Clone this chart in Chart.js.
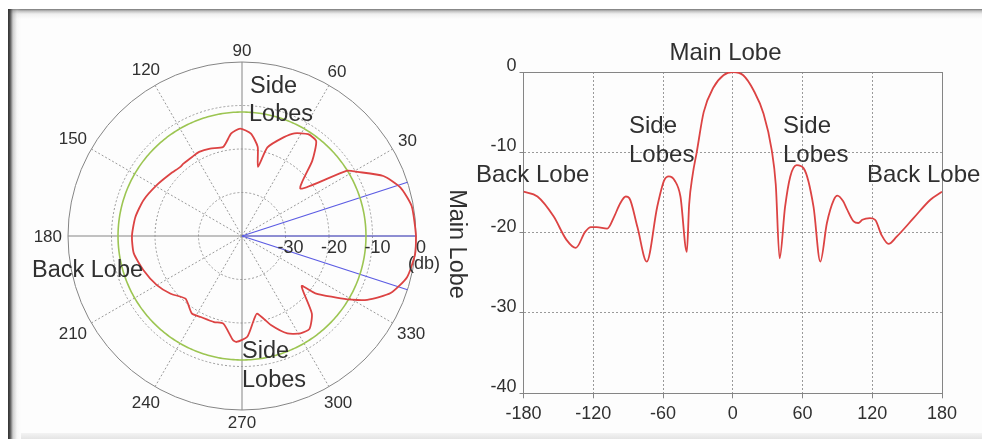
<!DOCTYPE html>
<html>
<head>
<meta charset="utf-8">
<script src="https://cdn.jsdelivr.net/npm/chart.js@4.4.1/dist/chart.umd.min.js"></script>
<style>
  html, body { margin: 0; padding: 0; background: #ffffff; overflow: hidden; }
  #stage { position: relative; width: 982px; height: 439px; overflow: hidden; background: #ffffff; }
  #panel { position: absolute; left: 8px; top: 9px; width: 974px; height: 430px; background: #fdfdfd; }
  #edgeTop {
    position: absolute; left: 8px; top: 9px; width: 974px; height: 10px;
    background: linear-gradient(rgba(110,110,110,0.95) 0, rgba(140,140,140,0.55) 2px, rgba(200,200,200,0.25) 5px, rgba(255,255,255,0) 10px);
  }
  #edgeLeft {
    position: absolute; left: 8px; top: 9px; width: 13px; height: 430px;
    background: linear-gradient(to right, rgba(50,50,50,1) 0, rgba(60,60,60,0.9) 2px, rgba(150,150,150,0.45) 5px, rgba(220,220,220,0.2) 9px, rgba(255,255,255,0) 13px);
  }
  #floor {
    position: absolute; left: 21px; top: 433px; width: 961px; height: 6px;
    background: linear-gradient(#f3f3f3, #e4e4e4);
  }
  #polar { position: absolute; left: 0; top: 0; width: 490px; height: 439px; }
  #cut { position: absolute; left: 470px; top: 0; width: 512px; height: 439px; }
</style>
</head>
<body>
<div id="stage">
  <div id="panel"></div>
  <div id="edgeTop"></div>
  <div id="edgeLeft"></div>
  <div id="floor"></div>
  <canvas id="polar" width="490" height="439"></canvas>
  <canvas id="cut" width="512" height="439"></canvas>
</div>
<script>
// Radiation pattern in polar form: direction (deg, counter-clockwise from boresight) and gain (dB)
const polarAngles = [0, 10, 17, 23, 29, 32, 39, 47, 52, 57, 63, 67, 74, 77, 80, 85, 91, 96, 102, 110,
  117, 122, 129, 132, 139, 149, 160, 170, 180, 189, 199, 210, 219, 228, 237, 243, 252, 258, 265, 267,
  273, 278, 281, 288, 295, 301, 306, 312, 320, 322, 329, 333, 339, 346, 354];
const polarDb = [0, -0.4, -1.9, -4.7, -9.6, -11.7, -22.7, -16.3, -12.3, -12.1, -13.5, -15.3, -18.8, -23.7, -19.2, -16.4, -15.3, -16.3, -19.1, -18.6,
  -18.3, -18.5, -18.6, -18.7, -18.2, -17.2, -15.9, -15.1, -14.7, -14.8, -16.0, -17.4, -18.9, -20.6, -18.8, -19.1, -19.2, -19.4, -16.0, -15.6,
  -16.8, -20.5, -21.8, -18.5, -15.3, -13.9, -13.6, -16.0, -22.1, -18.6, -11.7, -7.7, -3.4, -0.9, 0];

// Same pattern unrolled over -180..180 deg
const cutAngles = [-180, -168, -154, -143, -135, -127, -122, -117, -108, -102, -97, -92, -89, -82, -74, -65, -59, -55, -50, -45,
  -39.5, -37.5, -34.5, -31, -25, -16.5, -8, 0, 9, 18, 26.5, 33.5, 37, 40.3, 45, 49.5, 55, 61, 69.5, 75.3,
  81, 87, 90, 95, 98, 104, 108, 111.5, 118, 122.5, 128, 134, 141, 155.5, 170, 180];
const cutDb = [-14.9, -15.5, -18.0, -20.9, -21.9, -19.9, -19.3, -19.3, -19.5, -18.0, -16.4, -15.5, -15.7, -19.3, -23.6, -16.8, -13.5, -13.0, -13.5, -15.5,
  -22.4, -16.5, -12.8, -10.0, -5.0, -1.9, -0.4, 0, -0.4, -2.3, -5.2, -9.7, -14.0, -23.2, -16.8, -13.0, -11.6, -12.0, -16.8, -23.6,
  -18.8, -15.9, -15.4, -16.1, -17.0, -18.6, -18.8, -18.4, -18.2, -18.4, -20.3, -21.4, -20.5, -18.2, -15.9, -14.9];

// Reference ring and beam edges
const ringDb = -11.5;
const beamAngles = [18, 0, -18];

// Axis tick labels
const angleTickLabels = [30, 60, 90, 120, 150, 180, 210, 240, 270, 300, 330];
const radialTickLabels = [-30, -20, -10, 0];
const cutXTicks = [-180, -120, -60, 0, 60, 120, 180];
const cutYTicks = [0, -10, -20, -30, -40];

const RED = '#dc4343';
const GREEN = '#9cc552';
const BLUE = '#5b5be3';
const GRID = '#9a9a9a';
const AXIS = '#858585';
const TEXT = '#303030';
const FONT = '"Liberation Sans", Arial, sans-serif';

// ---------- polar chart ----------
// 1-degree direction categories, walked clockwise so that angles grow counter-clockwise
const N = 360;
const idxOf = a => ((N - Math.round(a)) % N + N) % N;
const directionLabels = Array.from({ length: N }, (_, i) => String((N - i) % N));
const patternSeries = new Array(N).fill(null);
polarAngles.forEach((a, k) => { patternSeries[idxOf(a)] = polarDb[k]; });
const ringSeries = new Array(N).fill(ringDb);

const polarDecor = {
  id: 'polarDecor',
  beforeDatasetsDraw(chart) {
    const s = chart.scales.r, ctx = chart.ctx;
    ctx.save();
    ctx.strokeStyle = BLUE; ctx.lineWidth = 1.2;
    beamAngles.forEach(a => {
      const p = s.getPointPositionForValue(idxOf(a), s.max);
      ctx.beginPath(); ctx.moveTo(s.xCenter, s.yCenter); ctx.lineTo(p.x, p.y); ctx.stroke();
    });
    ctx.restore();
  },
  afterDraw(chart) {
    const s = chart.scales.r, ctx = chart.ctx;
    ctx.save();
    ctx.fillStyle = TEXT;
    // direction labels around the rim
    ctx.font = '17px ' + FONT;
    ctx.textAlign = 'center'; ctx.textBaseline = 'middle';
    angleTickLabels.forEach(a => {
      const t = String(a);
      const w = ctx.measureText(t).width, h = 12;
      const rad = a * Math.PI / 180;
      const ext = Math.abs(Math.cos(rad)) * w / 2 + Math.abs(Math.sin(rad)) * h / 2;
      const p = s.getPointPosition(idxOf(a), s.drawingArea + 6 + ext);
      ctx.fillText(t, p.x, p.y + 1);
    });
    // gain labels along boresight
    ctx.font = '18px ' + FONT;
    ctx.textBaseline = 'alphabetic';
    radialTickLabels.forEach(v => {
      const p = s.getPointPositionForValue(0, v);
      ctx.fillText(String(v), p.x + 5, s.yCenter + 17);
    });
    const p0 = s.getPointPositionForValue(0, 0);
    ctx.fillText('(db)', p0.x + 8, s.yCenter + 33);
    // lobe captions
    ctx.font = '23.5px ' + FONT;
    ctx.textAlign = 'left';
    ctx.fillText('Side', 250, 93);
    ctx.fillText('Lobes', 249, 121);
    ctx.fillText('Side', 242, 358);
    ctx.fillText('Lobes', 242, 387);
    ctx.fillText('Back Lobe', 32, 277);
    ctx.translate(456, 244);
    ctx.rotate(Math.PI / 2);
    ctx.textAlign = 'center'; ctx.textBaseline = 'middle';
    ctx.fillText('Main Lobe', 0, 0);
    ctx.restore();
  }
};

new Chart(document.getElementById('polar'), {
  type: 'radar',
  data: {
    labels: directionLabels,
    datasets: [
      { data: patternSeries, borderColor: RED, borderWidth: 1.8, pointRadius: 0, spanGaps: true, tension: 0.2, fill: false },
      { data: ringSeries, borderColor: GREEN, borderWidth: 1.6, pointRadius: 0, tension: 0, fill: false }
    ]
  },
  options: {
    responsive: false,
    animation: false,
    layout: { padding: { left: 68, top: 62, right: 74, bottom: 29 } },
    plugins: { legend: { display: false }, tooltip: { enabled: false } },
    scales: {
      r: {
        min: -40, max: 0,
        startAngle: 90,
        ticks: { display: false, stepSize: 10 },
        pointLabels: { display: false },
        grid: {
          circular: true,
          color: c => (c.tick && c.tick.value === 0) ? AXIS : GRID,
          lineWidth: 1
        },
        border: { dash: c => (c.tick && c.tick.value === 0) ? [] : [2, 2] },
        angleLines: {
          display: true,
          color: c => (c.index % 90 === 0) ? AXIS : GRID,
          lineWidth: c => (c.index % 30 === 0) ? 1 : 0,
          borderDash: c => (c.index % 90 === 0) ? [] : [2, 2]
        }
      }
    }
  },
  plugins: [polarDecor]
});

// ---------- rectangular cut ----------
const cutCaptions = {
  id: 'cutCaptions',
  afterDraw(chart) {
    const ctx = chart.ctx;
    ctx.save();
    ctx.fillStyle = TEXT;
    ctx.font = '24px ' + FONT;
    ctx.textBaseline = 'alphabetic';
    ctx.textAlign = 'center';
    ctx.fillText('Main Lobe', 255.5, 60);
    ctx.textAlign = 'left';
    ctx.fillText('Side', 159, 133);
    ctx.fillText('Lobes', 159, 162);
    ctx.fillText('Side', 313, 133);
    ctx.fillText('Lobes', 313, 162);
    ctx.fillText('Back Lobe', 6, 182);
    ctx.fillText('Back Lobe', 397, 182);
    ctx.restore();
  }
};

const isEdgeX = v => v === cutXTicks[0] || v === cutXTicks[cutXTicks.length - 1];
const isEdgeY = v => v === cutYTicks[0] || v === cutYTicks[cutYTicks.length - 1];

new Chart(document.getElementById('cut'), {
  type: 'line',
  data: {
    datasets: [{
      data: cutAngles.map((x, i) => ({ x, y: cutDb[i] })),
      borderColor: RED, borderWidth: 1.8, pointRadius: 0,
      cubicInterpolationMode: 'monotone', fill: false
    }]
  },
  options: {
    responsive: false,
    animation: false,
    layout: { padding: { left: 0, top: 72, right: 40, bottom: 0 } },
    plugins: { legend: { display: false }, tooltip: { enabled: false } },
    scales: {
      x: {
        type: 'linear', min: cutXTicks[0], max: cutXTicks[cutXTicks.length - 1],
        afterFit: s => { s.height = 45.7; },
        afterBuildTicks: s => { s.ticks = cutXTicks.map(v => ({ value: v })); },
        ticks: { color: TEXT, font: { family: FONT, size: 18 }, padding: 5, maxRotation: 0, autoSkip: false },
        grid: {
          color: c => (c.tick && isEdgeX(c.tick.value)) ? AXIS : GRID,
          tickLength: 5, tickColor: AXIS
        },
        border: { display: true, color: AXIS, width: 1, dash: c => (c.tick && !isEdgeX(c.tick.value)) ? [2, 2] : [] }
      },
      y: {
        min: cutYTicks[cutYTicks.length - 1], max: cutYTicks[0],
        afterFit: s => { s.width = 53.5; },
        afterBuildTicks: s => { s.ticks = cutYTicks.map(v => ({ value: v })); },
        ticks: { color: TEXT, font: { family: FONT, size: 18 }, padding: 3, labelOffset: -6 },
        grid: {
          color: c => (c.tick && isEdgeY(c.tick.value)) ? AXIS : GRID,
          tickLength: 4, tickColor: AXIS
        },
        border: { display: true, color: AXIS, width: 1, dash: c => (c.tick && !isEdgeY(c.tick.value)) ? [2, 2] : [] }
      }
    }
  },
  plugins: [cutCaptions]
});
</script>
</body>
</html>
